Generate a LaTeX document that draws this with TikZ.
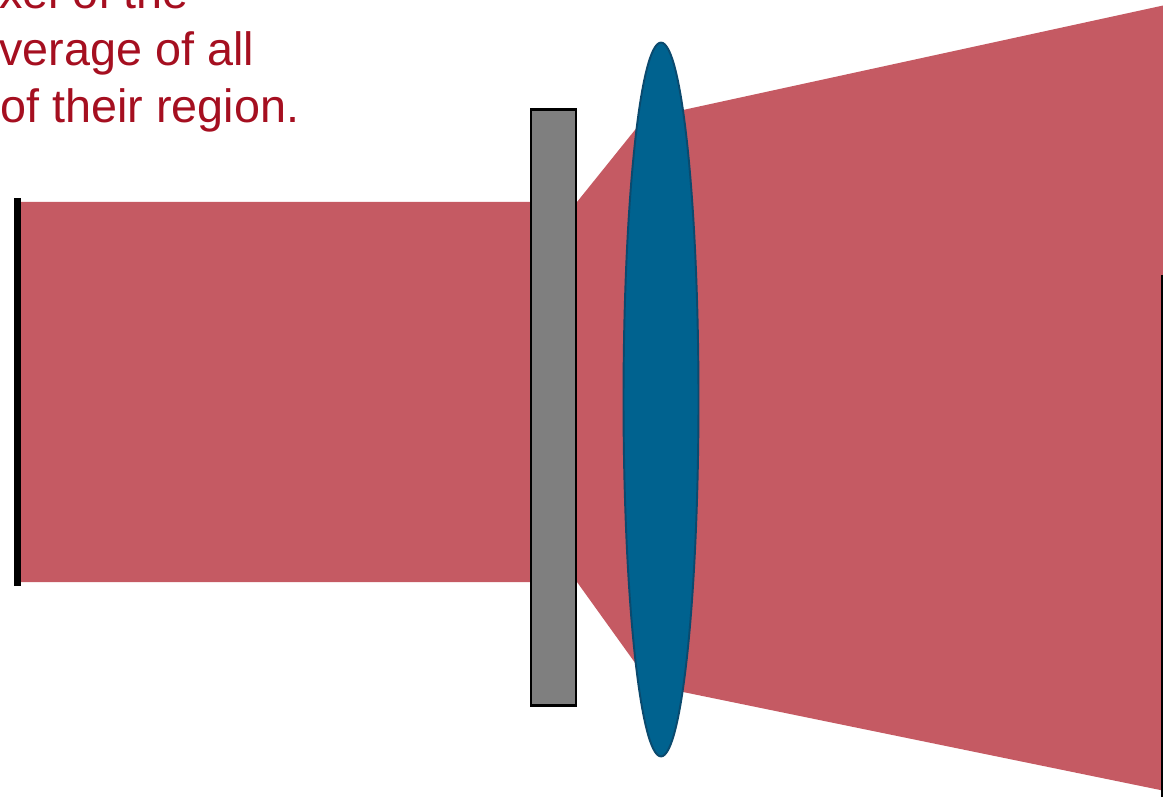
\documentclass[tikz,border=0pt]{standalone}
\usepackage{fontspec}
\setmainfont{Liberation Sans}
\usetikzlibrary{shapes.geometric}
\definecolor{beamred}{HTML}{C55A63}
\definecolor{textred}{HTML}{A50F20}
\definecolor{plategray}{HTML}{7F7F7F}
\definecolor{lensblue}{HTML}{00628F}
\definecolor{lensedge}{HTML}{0B4A6E}

\begin{document}
\begin{tikzpicture}[
  x=0.02cm, y=-0.02cm,
  beam/.style={fill=beamred},
  plate/.style={rectangle,draw=black,line width=1.4pt,fill=plategray,inner sep=0pt,minimum width=0.89cm,minimum height=11.93cm},
  lens/.style={ellipse,draw=lensedge,line width=1.1pt,fill=lensblue,inner sep=0pt,minimum width=1.5cm,minimum height=14.28cm},
  caption/.style={anchor=base west,inner sep=0pt,text=textred,font=\fontsize{26.6}{32}\selectfont}
]
\useasboundingbox (0,0) rectangle (1163,797);
\clip (0,0) rectangle (1163,797);
% light beam
\fill[beam] (21,202) -- (577,202) -- (651,110) -- (683,110) -- (1170,4)
  -- (1170,792) -- (683,692) -- (656,692) -- (577,582) -- (21,582) -- cycle;
% screens
\fill (14,198) rectangle (21,586);
\fill (1160.5,275) rectangle (1164,797);
% optics
\node[plate] (plate) at (553.5,407.5) {};
\node[lens] (lens) at (661,399.5) {};
% caption
\node[caption] (line1) at (-1,9) {xel of the};
\node[caption] (line2) at (-1,66) {verage of all};
\node[caption] (line3) at (0,123) {of their region.};
\end{tikzpicture}
\end{document}
